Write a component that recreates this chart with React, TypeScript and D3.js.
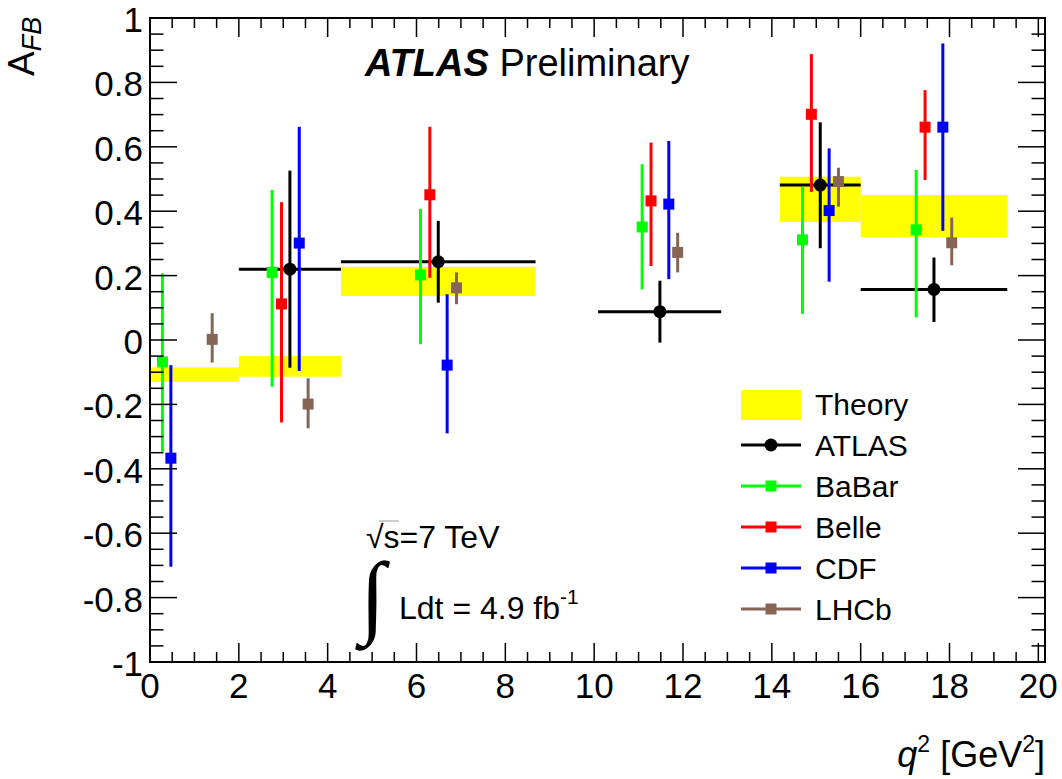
import React, { useRef, useEffect } from 'react';
import * as d3 from 'd3';

// Theory bands (q2 bin edges and A_FB range)
const theoryLow = [0, 2, 4.3, 14.18, 16];
const theoryHigh = [2, 4.3, 8.68, 16, 19.3];
const theoryMin = [-0.13, -0.114, 0.137, 0.366, 0.319];
const theoryMax = [-0.085, -0.05, 0.227, 0.507, 0.45];

// ATLAS measurement
const atlasLow = [2, 4.3, 10.09, 14.18, 16];
const atlasHigh = [4.3, 8.68, 12.86, 16, 19.3];
const atlasQ2 = [3.15, 6.49, 11.48, 15.09, 17.65];
const atlasAfb = [0.22, 0.243, 0.088, 0.481, 0.157];
const atlasErrHi = [0.526, 0.37, 0.184, 0.676, 0.256];
const atlasErrLo = [-0.086, 0.116, -0.008, 0.285, 0.056];

// other experiments
const babarQ2 = [0.28, 2.75, 6.09, 11.08, 14.69, 17.25];
const babarAfb = [-0.068, 0.21, 0.202, 0.351, 0.311, 0.342];
const babarErrHi = [0.207, 0.466, 0.407, 0.546, 0.476, 0.528];
const babarErrLo = [-0.347, -0.145, -0.013, 0.157, 0.081, 0.07];

const belleQ2 = [2.96, 6.3, 11.28, 14.89, 17.45];
const belleAfb = [0.112, 0.451, 0.432, 0.701, 0.661];
const belleErrHi = [0.428, 0.662, 0.613, 0.888, 0.776];
const belleErrLo = [-0.256, 0.193, 0.23, 0.46, 0.497];

const cdfQ2 = [0.47, 3.36, 6.69, 11.68, 15.29, 17.85];
const cdfAfb = [-0.367, 0.301, -0.078, 0.422, 0.402, 0.661];
const cdfErrHi = [-0.078, 0.662, 0.142, 0.618, 0.595, 0.921];
const cdfErrLo = [-0.704, -0.096, -0.29, 0.189, 0.181, 0.339];

const lhcbQ2 = [1.4, 3.56, 6.9, 11.88, 15.5, 18.05];
const lhcbAfb = [0.002, -0.199, 0.162, 0.272, 0.492, 0.302];
const lhcbErrHi = [0.083, -0.119, 0.21, 0.333, 0.535, 0.38];
const lhcbErrLo = [-0.07, -0.274, 0.111, 0.21, 0.414, 0.232];

const xTicks = [0, 2, 4, 6, 8, 10, 12, 14, 16, 18, 20];
const yTicks = [-1, -0.8, -0.6, -0.4, -0.2, 0, 0.2, 0.4, 0.6, 0.8, 1];
const yTickLabels = ['-1', '-0.8', '-0.6', '-0.4', '-0.2', '0', '0.2', '0.4', '0.6', '0.8', '1'];

const FONT = "'Liberation Sans', Arial, Helvetica, sans-serif";

const App: React.FC = () => {
  const svgRef = useRef<SVGSVGElement | null>(null);

  useEffect(() => {
    if (!svgRef.current) return;
    const svg = d3.select(svgRef.current);
    svg.selectAll('*').remove();

    const left = 150, right = 1045, top = 18, bottom = 662;
    const x = d3.scaleLinear().domain([0, 20.15]).range([left, right]);
    const y = d3.scaleLinear().domain([-1, 1]).range([bottom, top]);

    // theory bands
    svg
      .selectAll('rect.theory')
      .data(theoryLow)
      .enter()
      .append('rect')
      .attr('x', (d) => x(d))
      .attr('width', (d, i) => x(theoryHigh[i]) - x(d))
      .attr('y', (d, i) => y(theoryMax[i]))
      .attr('height', (d, i) => y(theoryMin[i]) - y(theoryMax[i]))
      .attr('fill', '#ffff00');

    // ATLAS
    const atlas = svg.append('g');
    atlasQ2.forEach((q, i) => {
      atlas
        .append('line')
        .attr('x1', x(atlasLow[i]))
        .attr('x2', x(atlasHigh[i]))
        .attr('y1', y(atlasAfb[i]))
        .attr('y2', y(atlasAfb[i]))
        .attr('stroke', '#000')
        .attr('stroke-width', 3);
      atlas
        .append('line')
        .attr('x1', x(q))
        .attr('x2', x(q))
        .attr('y1', y(atlasErrHi[i]))
        .attr('y2', y(atlasErrLo[i]))
        .attr('stroke', '#000')
        .attr('stroke-width', 3);
      atlas
        .append('circle')
        .attr('cx', x(q))
        .attr('cy', y(atlasAfb[i]))
        .attr('r', 6.5)
        .attr('fill', '#000');
    });

    const series = [
      { q2: babarQ2, afb: babarAfb, hi: babarErrHi, lo: babarErrLo, color: '#00ff00' },
      { q2: belleQ2, afb: belleAfb, hi: belleErrHi, lo: belleErrLo, color: '#ff0000' },
      { q2: cdfQ2, afb: cdfAfb, hi: cdfErrHi, lo: cdfErrLo, color: '#0000ff' },
      { q2: lhcbQ2, afb: lhcbAfb, hi: lhcbErrHi, lo: lhcbErrLo, color: '#866456' },
    ];
    const sq = 11;
    series.forEach((s) => {
      const g = svg.append('g');
      s.q2.forEach((q, i) => {
        g.append('line')
          .attr('x1', x(q))
          .attr('x2', x(q))
          .attr('y1', y(s.hi[i]))
          .attr('y2', y(s.lo[i]))
          .attr('stroke', s.color)
          .attr('stroke-width', 3);
        g.append('rect')
          .attr('x', x(q) - sq / 2)
          .attr('y', y(s.afb[i]) - sq / 2)
          .attr('width', sq)
          .attr('height', sq)
          .attr('fill', s.color);
      });
    });

    // frame and ticks
    const axes = svg.append('g').attr('stroke', '#000').attr('stroke-width', 1.5);
    axes
      .append('rect')
      .attr('x', left)
      .attr('y', top)
      .attr('width', right - left)
      .attr('height', bottom - top)
      .attr('fill', 'none')
      .attr('stroke-width', 2);

    d3.range(0, 20.01, 0.5).forEach((t) => {
      const len = t % 2 === 0 ? 19 : 10;
      axes.append('line').attr('x1', x(t)).attr('x2', x(t)).attr('y1', bottom).attr('y2', bottom - len);
      axes.append('line').attr('x1', x(t)).attr('x2', x(t)).attr('y1', top).attr('y2', top + len);
    });
    d3.range(-20, 21, 1).forEach((k) => {
      const t = k * 0.05;
      const len = k % 4 === 0 ? 27 : 13.5;
      axes.append('line').attr('x1', left).attr('x2', left + len).attr('y1', y(t)).attr('y2', y(t));
      axes.append('line').attr('x1', right).attr('x2', right - len).attr('y1', y(t)).attr('y2', y(t));
    });

    // tick labels
    const labels = svg.append('g').attr('font-family', FONT).attr('font-size', 35).attr('fill', '#000');
    xTicks.forEach((t) => {
      labels.append('text').attr('x', x(t)).attr('y', bottom + 36).attr('text-anchor', 'middle').text(String(t));
    });
    yTicks.forEach((t, i) => {
      labels
        .append('text')
        .attr('x', left - 7)
        .attr('y', y(t) + 14)
        .attr('text-anchor', 'end')
        .text(yTickLabels[i]);
    });
  }, []);

  return (
    <svg
      ref={svgRef}
      width={1062}
      height={779}
      style={{ position: 'absolute', left: 0, top: 0, background: '#fff' }}
    >
      <g />
    </svg>
  );
};

const Overlay: React.FC = () => (
  <svg width={1062} height={779} style={{ position: 'absolute', left: 0, top: 0, pointerEvents: 'none' }}>
    <g fontFamily={FONT} fill="#000">
      {/* axis titles */}
      <text transform="translate(34,76) rotate(-90)" fontSize={37}>
        A
        <tspan fontSize={27} fontStyle="italic" dy={7}>
          FB
        </tspan>
      </text>
      <text x={1045} y={767} fontSize={36} textAnchor="end">
        <tspan fontStyle="italic">q</tspan>
        <tspan fontSize={23} dy={-15}>2</tspan>
        <tspan dy={15}> [GeV</tspan>
        <tspan fontSize={23} dy={-15}>2</tspan>
        <tspan dy={15}>]</tspan>
      </text>

      <text x={365} y={76} fontSize={38}>
        <tspan fontWeight="bold" fontStyle="italic">ATLAS</tspan> Preliminary
      </text>

      <text x={366} y={548} fontSize={32}>√s=7 TeV</text>
      <line x1={379} x2={399} y1={521} y2={521} stroke="#999" strokeWidth={1} />
      <text x={360} y={626} fontSize={92} fontFamily="'Liberation Serif', serif">∫</text>
      <text x={399} y={619} fontSize={32}>
        Ldt = 4.9 fb<tspan fontSize={21} dy={-15}>-1</tspan>
      </text>

      {/* legend */}
      <rect x={741} y={390} width={60} height={30} fill="#ffff00" />
      <text x={815} y={415} fontSize={30}>Theory</text>
      {[
        { name: 'ATLAS', color: '#000', dot: true },
        { name: 'BaBar', color: '#00ff00', dot: false },
        { name: 'Belle', color: '#ff0000', dot: false },
        { name: 'CDF', color: '#0000ff', dot: false },
        { name: 'LHCb', color: '#866456', dot: false },
      ].map((e, i) => {
        const cy = 445 + i * 41;
        return (
          <g key={e.name}>
            <line x1={741} x2={801} y1={cy} y2={cy} stroke={e.color} strokeWidth={3} />
            {e.dot ? (
              <circle cx={771} cy={cy} r={6.5} fill={e.color} />
            ) : (
              <rect x={765.5} y={cy - 5.5} width={11} height={11} fill={e.color} />
            )}
            <text x={815} y={cy + 11} fontSize={30}>{e.name}</text>
          </g>
        );
      })}
    </g>
  </svg>
);

const Root: React.FC = () => (
  <div>
    <App />
    <Overlay />
  </div>
);

export default Root;
